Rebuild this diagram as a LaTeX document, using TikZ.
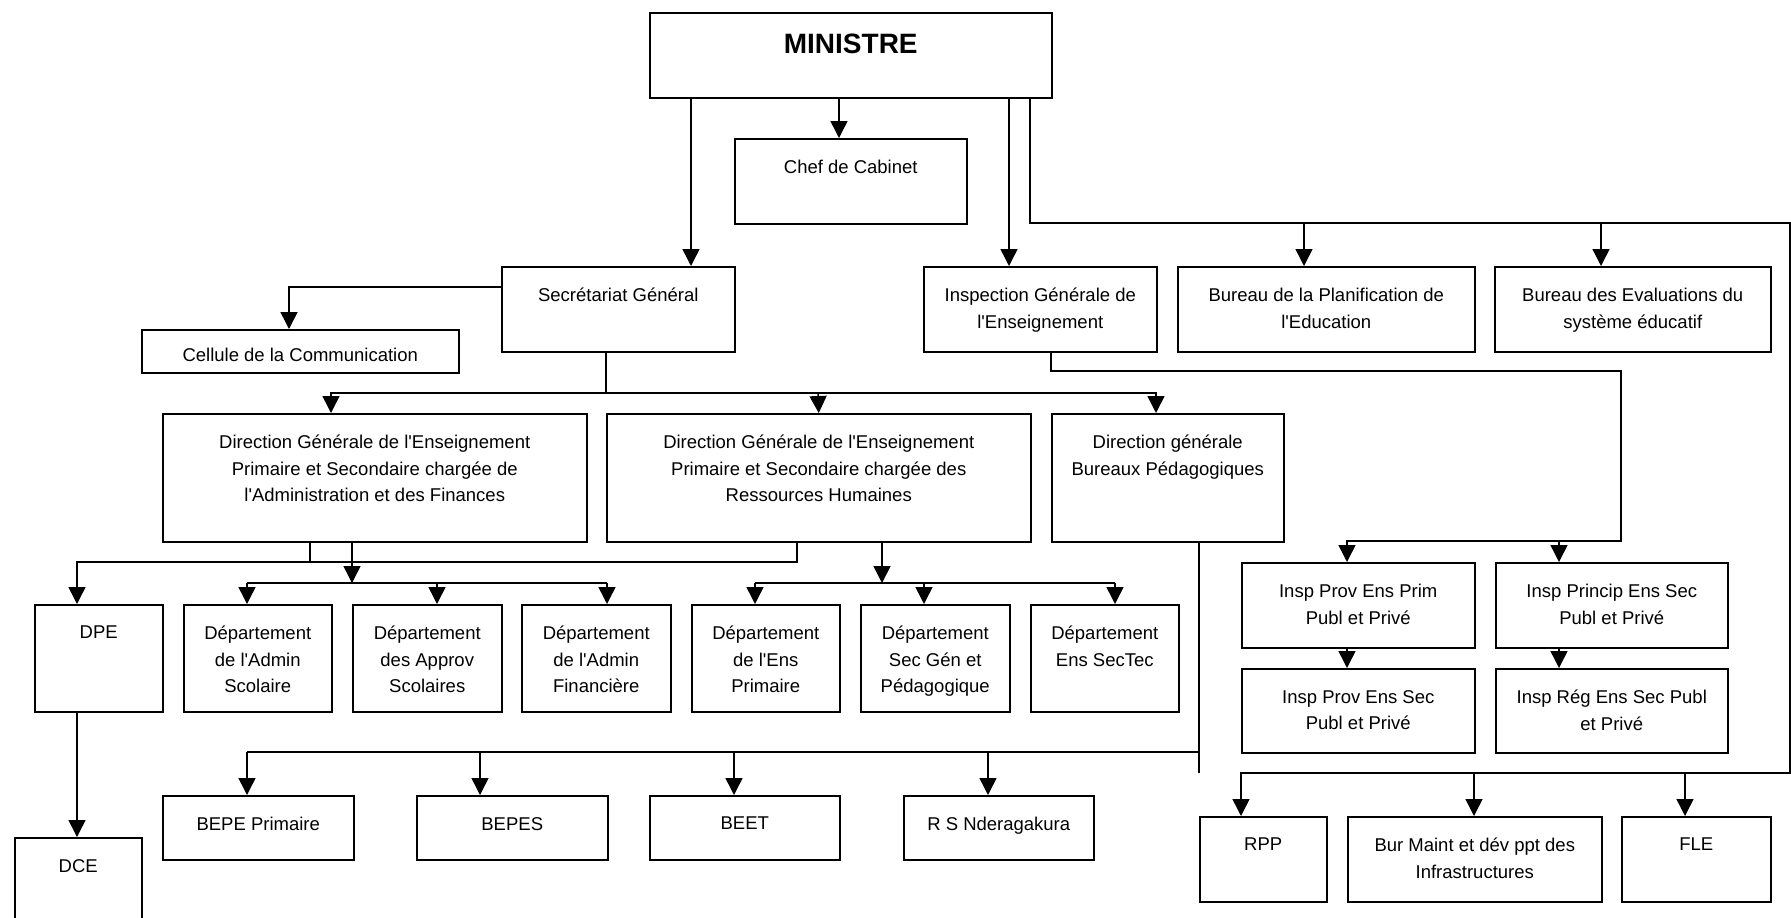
\documentclass[tikz,border=0pt]{standalone}
\usepackage{fontspec}
\setmainfont{Liberation Sans}
\usetikzlibrary{arrows.meta}

\begin{document}
\begin{tikzpicture}[x=1pt, y=-1pt,
    unit/.style 2 args={draw, line width=1.5pt, anchor=north west, inner sep=0pt,
      minimum width=#1, minimum height=#2},
    txt/.style={anchor=north, yshift=-22pt, align=center, inner sep=0pt,
      font=\fontsize{18.5}{26.5}\selectfont},
    line/.style={line width=1.5pt},
    arr/.style={line width=1.5pt, -{Triangle[length=17pt,width=17pt]}}]
        \path[fill=white, use as bounding box] (0,0) rectangle (1791,918);
        % top level
        \node[unit={402}{85}, label={[txt, font=\fontsize{28}{34}\selectfont\bfseries]north:MINISTRE}] (min) at (649,12) {};
        \node[unit={232}{85}, label={[txt]north:Chef de Cabinet}] (cab) at (734,138) {};
        \node[unit={233}{85}, label={[txt]north:Secrétariat Général}] (sg) at (501,266) {};
        \node[unit={317}{43}, label={[txt, yshift=3pt]north:Cellule de la Communication}] (cel) at (141,329) {};
        \node[unit={233}{85}, label={[txt]north:{Inspection Générale de\\l\textquotesingle Enseignement}}] (ige) at (923,266) {};
        \node[unit={297}{85}, label={[txt]north:{Bureau de la Planification de\\l\textquotesingle Education}}] (bpe) at (1177,266) {};
        \node[unit={276}{85}, label={[txt]north:{Bureau des Evaluations du\\système éducatif}}] (bes) at (1494,266) {};
        % directions
        \node[unit={424}{128}, label={[txt]north:{Direction Générale de l\textquotesingle Enseignement\\Primaire et Secondaire chargée de\\l\textquotesingle Administration et des Finances}}] (dgaf) at (162,413) {};
        \node[unit={424}{128}, label={[txt]north:{Direction Générale de l\textquotesingle Enseignement\\Primaire et Secondaire chargée des\\Ressources Humaines}}] (dgrh) at (606,413) {};
        \node[unit={232}{128}, label={[txt]north:{Direction générale\\Bureaux Pédagogiques}}] (dgbp) at (1051,413) {};
        % departments
        \node[unit={128}{107}, label={[txt]north:DPE}] (dpe) at (34,604) {};
        \node[unit={148}{107}, label={[txt]north:{Département\\de l\textquotesingle Admin\\Scolaire}}] (das) at (183,604) {};
        \node[unit={149}{107}, label={[txt]north:{Département\\des Approv\\Scolaires}}] (dap) at (352,604) {};
        \node[unit={149}{107}, label={[txt]north:{Département\\de l\textquotesingle Admin\\Financière}}] (daf) at (521,604) {};
        \node[unit={148}{107}, label={[txt]north:{Département\\de l\textquotesingle Ens\\Primaire}}] (dep) at (691,604) {};
        \node[unit={149}{107}, label={[txt]north:{Département\\Sec Gén et\\Pédagogique}}] (dsg) at (860,604) {};
        \node[unit={148}{107}, label={[txt]north:{Département\\Ens SecTec}}] (dst) at (1030,604) {};
        % inspections
        \node[unit={233}{85}, label={[txt]north:{Insp Prov Ens Prim\\Publ et Privé}}] (ipp) at (1241,562) {};
        \node[unit={232}{85}, label={[txt]north:{Insp Princip Ens Sec\\Publ et Privé}}] (ips) at (1495,562) {};
        \node[unit={233}{84}, label={[txt]north:{Insp Prov Ens Sec\\Publ et Privé}}] (ipsec) at (1241,668) {};
        \node[unit={232}{84}, label={[txt]north:{Insp Rég Ens Sec Publ\\et Privé}}] (irs) at (1495,668) {};
        % bureaux
        \node[unit={191}{64}, label={[txt]north:BEPE Primaire}] (bepe) at (162,795) {};
        \node[unit={191}{64}, label={[txt]north:BEPES}] (bepes) at (416,795) {};
        \node[unit={190}{64}, label={[txt]north:BEET}] (beet) at (649,795) {};
        \node[unit={190}{64}, label={[txt]north:R S Nderagakura}] (rsn) at (903,795) {};
        \node[unit={127}{100}, label={[txt]north:DCE}] (dce) at (14,837) {};
        \node[unit={127}{85}, label={[txt]north:RPP}] (rpp) at (1199,816) {};
        \node[unit={254}{85}, label={[txt]north:{Bur Maint et dév ppt des\\Infrastructures}}] (bmi) at (1347,816) {};
        \node[unit={149}{85}, label={[txt]north:FLE}] (fle) at (1621,816) {};

        % links from the minister
        \draw[arr] (min.south -| 691,0) -- (sg.north -| 691,0);
        \draw[arr] (min.south -| 839,0) -- (cab.north -| 839,0);
        \draw[arr] (min.south -| 1009,0) -- (ige.north -| 1009,0);
        \draw[arr] (min.south -| 1030,0) |- (1790,223) |- (1241,773) -- (rpp.north -| 1241,0);
        \foreach \x/\n in {1304/bpe,1601/bes}{\draw[arr] (\x,223) -- (\n.north -| \x,0);}
        \foreach \x/\n in {1474/bmi,1685/fle}{\draw[arr] (\x,773) -- (\n.north -| \x,0);}
        % secretariat
        \draw[arr] (sg.west |- 0,287) -| (cel.north -| 289,0);
        \draw[arr] (sg.south -| 606,0) |- (331,393) -- (dgaf.north -| 331,0);
        \draw[arr] (606,393) -| (dgbp.north -| 1156,0);
        \draw[arr] (818,393) -- (dgrh.north);
        % inspection
        \draw[arr] (ige.south -| 1051,0) |- (1621,371) |- (1347,541) -- (ipp.north -| 1347,0);
        \draw[arr] (1559,541) -- (ips.north -| 1559,0);
        \draw[arr] (ipp.south -| 1347,0) -- (ipsec.north -| 1347,0);
        \draw[arr] (ips.south -| 1559,0) -- (irs.north -| 1559,0);
        % directions to departments
        \draw[arr] (dgrh.south -| 797,0) |- (77,562) -- (dpe.north -| 77,0);
        \draw[line] (dgaf.south -| 310,0) -- (310,562);
        \draw[arr] (dgaf.south -| 352,0) -- (352,583);
        \draw[line] (247,583) -- (607,583);
        \foreach \x/\n in {247/das,437/dap,607/daf}{\draw[arr] (\x,583) -- (\n.north -| \x,0);}
        \draw[arr] (dgrh.south -| 882,0) -- (882,583);
        \draw[line] (755,583) -- (1115,583);
        \foreach \x/\n in {755/dep,924/dsg,1115/dst}{\draw[arr] (\x,583) -- (\n.north -| \x,0);}
        \draw[line] (dgbp.south -| 1199,0) -- (1199,773);
        \draw[line] (247,752) -- (1199,752);
        \foreach \x/\n in {247/bepe,480/bepes,734/beet,988/rsn}{\draw[arr] (\x,752) -- (\n.north -| \x,0);}
        \draw[arr] (dpe.south -| 77,0) -- (dce.north -| 77,0);
    \end{tikzpicture}
\end{document}
